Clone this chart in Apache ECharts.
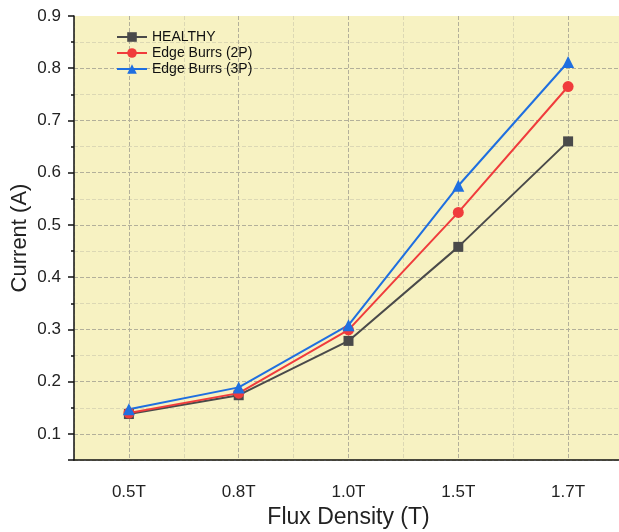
<!DOCTYPE html>
<html>
<head>
<meta charset="utf-8">
<script src="https://cdn.jsdelivr.net/npm/echarts@6/dist/echarts.min.js"></script>
<style>
  html, body { margin: 0; padding: 0; background: #fff; }
  #chart { width: 619px; height: 532px; }
</style>
</head>
<body>
<div id="chart"></div>
<script>
const categories = ['0.5T', '0.8T', '1.0T', '1.5T', '1.7T']
const healthy = [0.138, 0.174, 0.278, 0.458, 0.66]
const burrs2P = [0.14, 0.178, 0.299, 0.524, 0.765]
const burrs3P = [0.147, 0.189, 0.308, 0.575, 0.812]

const font = 'Liberation Sans, Arial, sans-serif'
const majorGrid = '#b3b09a'
const minorGrid = '#dcd8b4'

const myChart = echarts.init(document.getElementById('chart'))

const mkSeries = (name, data, color, symbol, size) => ({
    name: name,
    type: 'line',
    data: data,
    symbol: symbol,
    symbolSize: size,
    lineStyle: { color: color, width: 2 },
    itemStyle: { color: color },
    z: 3
})

myChart.setOption({
    animation: false,
    textStyle: { fontFamily: font },
    grid: {
        left: 74, top: 16, width: 549, height: 444, show: true,
        backgroundColor: '#f7f2c2', borderWidth: 0,
        containLabel: false, outerBoundsMode: 'none'
    },
    legend: {
        left: 111, top: 25, orient: 'vertical', itemGap: 2, itemWidth: 30, itemHeight: 12,
        textStyle: { fontSize: 14, color: '#111', fontFamily: font },
        data: ['HEALTHY', 'Edge Burrs (2P)', 'Edge Burrs (3P)']
    },
    xAxis: [
        {
            type: 'category', data: categories, boundaryGap: true,
            name: 'Flux Density (T)', nameLocation: 'middle', nameGap: 46,
            nameTextStyle: { fontSize: 23, color: '#222' },
            axisLine: { onZero: false, lineStyle: { color: '#111', width: 1.5 } },
            axisTick: { alignWithLabel: true, length: 6, lineStyle: { color: '#111', width: 1.5 } },
            axisLabel: { fontSize: 17, color: '#222', margin: 24 },
            splitLine: { show: true, alignWithLabel: true, lineStyle: { color: majorGrid, type: 'dashed' } }
        },
        {
            type: 'category', data: categories, boundaryGap: true, position: 'bottom',
            axisLine: { show: false, onZero: false },
            axisTick: { alignWithLabel: false, length: 3, lineStyle: { color: '#111', width: 1.5 } },
            axisLabel: { show: false },
            splitLine: { show: true, lineStyle: { color: minorGrid, type: 'dashed' } }
        }
    ],
    yAxis: [
        {
            type: 'value', min: 0.05, max: 0.9, interval: 0.05,
            name: 'Current (A)', nameLocation: 'middle', nameGap: 43, nameMoveOverlap: false,
            nameTextStyle: { fontSize: 22, color: '#222' },
            axisLine: { show: true, onZero: false, lineStyle: { color: '#111', width: 1.5 } },
            axisTick: { show: true, length: 3, lineStyle: { color: '#111', width: 1.5 } },
            axisLabel: {
                fontSize: 17, color: '#222', margin: 13,
                formatter: v => Math.abs(v * 10 - Math.round(v * 10)) < 1e-6 ? v.toFixed(1) : ''
            },
            splitLine: { show: true, showMaxLine: false, lineStyle: { color: [minorGrid, majorGrid], type: 'dashed' } }
        },
        {
            // only used to draw the long ticks at every 0.1
            type: 'value', inverse: true, min: 0, max: 0.85, interval: 0.1, position: 'left',
            axisLine: { show: false, onZero: false },
            axisTick: { show: true, length: 6, lineStyle: { color: '#111', width: 1.5 } },
            axisLabel: { show: false },
            splitLine: { show: false }
        }
    ],
    series: [
        mkSeries('HEALTHY', healthy, '#4a4a4a', 'rect', 10),
        mkSeries('Edge Burrs (2P)', burrs2P, '#f03c3c', 'circle', 11),
        mkSeries('Edge Burrs (3P)', burrs3P, '#1f6fe0', 'triangle', 12)
    ]
})
</script>
</body>
</html>
